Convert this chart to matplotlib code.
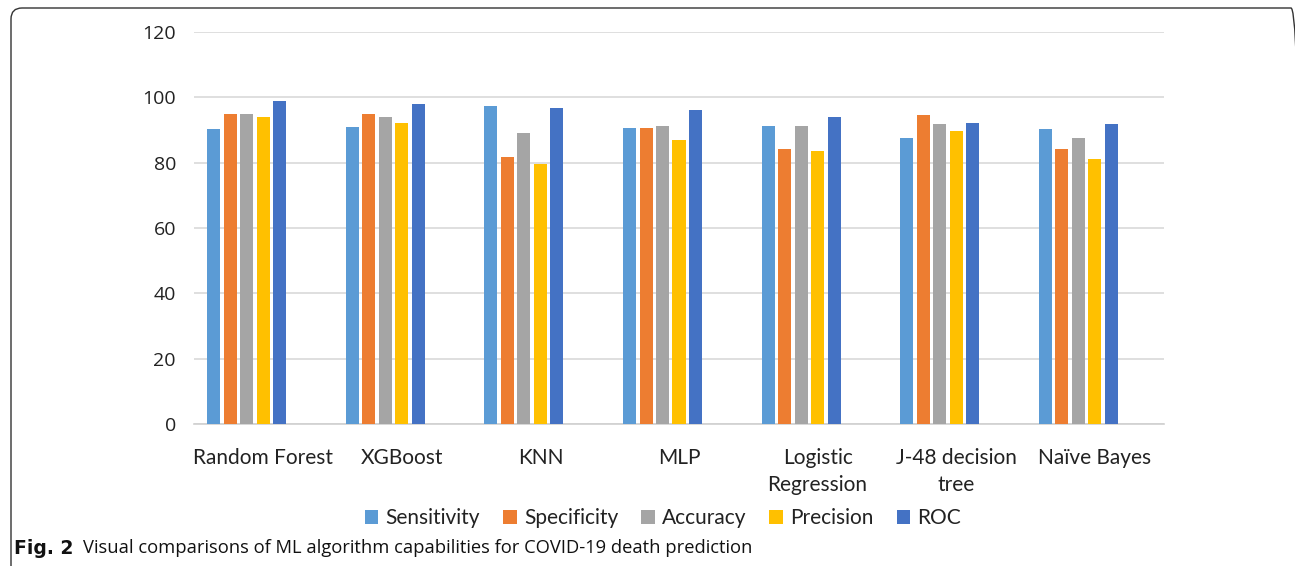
import matplotlib
matplotlib.use("Agg")
import matplotlib.pyplot as plt
import numpy as np
from matplotlib.patches import FancyBboxPatch

# Model performance scores (%)
models = ["Random Forest", "XGBoost", "KNN", "MLP", "Logistic\nRegression",
          "J-48 decision\ntree", "Naïve Bayes"]
sensitivity = [90.3, 90.8, 97.3, 90.7, 91.1, 87.4, 90.3]
specificity = [94.8, 94.8, 81.8, 90.7, 84.1, 94.5, 84.1]
accuracy = [94.8, 94.1, 89.2, 91.1, 91.1, 91.8, 87.4]
precision = [94.1, 92.2, 79.7, 87.0, 83.7, 89.7, 81.1]
roc = [98.9, 98.1, 96.6, 96.2, 94.1, 92.1, 91.8]

series_names = ["Sensitivity", "Specificity", "Accuracy", "Precision", "ROC"]
series_values = [sensitivity, specificity, accuracy, precision, roc]
colors = ["#5B9BD5", "#ED7D31", "#A5A5A5", "#FFC000", "#4472C4"]
yticks = [0, 20, 40, 60, 80, 100, 120]

W, H = 1295, 566
fig = plt.figure(figsize=(W / 100, H / 100), dpi=100)

# rounded frame around the figure (right and bottom edges run off the canvas)
frame = FancyBboxPatch((11 / W, -0.1), (1302 - 11) / W, 1 - 8 / H + 0.1,
                       boxstyle="round,pad=0,rounding_size=0.0085",
                       transform=fig.transFigure, fill=False,
                       edgecolor="#333333", linewidth=1.0,
                       mutation_aspect=W / H)
fig.add_artist(frame)

ax = fig.add_axes([194 / W, 1 - 424 / H, 970 / W, 392 / H])

x = np.arange(len(models))
pitch = 0.119
width = 0.094
for i, (name, vals, c) in enumerate(zip(series_names, series_values, colors)):
    ax.bar(x + (i - 3) * pitch, vals, width=width, color=c, label=name,
           zorder=3)

ax.set_xlim(-0.5, len(models) - 0.5)
ax.set_ylim(0, 120)
ax.set_yticks(yticks)
ax.set_yticklabels([str(t) for t in yticks], fontfamily="Open Sans",
                   fontsize=14, color="#222222")
ax.yaxis.grid(True, color="#d9d9d9", linewidth=1.2, zorder=0)
ax.set_axisbelow(True)
ax.tick_params(axis="y", length=0, pad=13)
ax.tick_params(axis="x", length=0, pad=17)
ax.set_xticks(x)
ax.set_xticklabels(models, fontfamily="Lato", fontsize=15, color="#222222",
                   linespacing=1.45, va="top")
for s in ["top", "right", "left"]:
    ax.spines[s].set_visible(False)
ax.spines["bottom"].set_color("#d0d0d0")
ax.spines["bottom"].set_linewidth(1.2)

leg = fig.legend(loc="center", bbox_to_anchor=(663 / W, 1 - 518 / H), ncol=5,
                 frameon=False, handlelength=0.65, handleheight=0.65,
                 handletextpad=0.35, columnspacing=1.1,
                 prop={"family": "Lato", "size": 15})
for t in leg.get_texts():
    t.set_color("#222222")

fig.text(14 / W, 1 - 548 / H, "Fig. 2", fontfamily="DejaVu Sans",
         fontweight="bold", fontsize=13.5, va="center", ha="left",
         color="#111111")
fig.text(83 / W, 1 - 548 / H,
         "Visual comparisons of ML algorithm capabilities for COVID-19 death prediction",
         fontfamily="Open Sans", fontsize=13.2, va="center", ha="left",
         color="#111111")

fig.savefig("out.png", dpi=100)
